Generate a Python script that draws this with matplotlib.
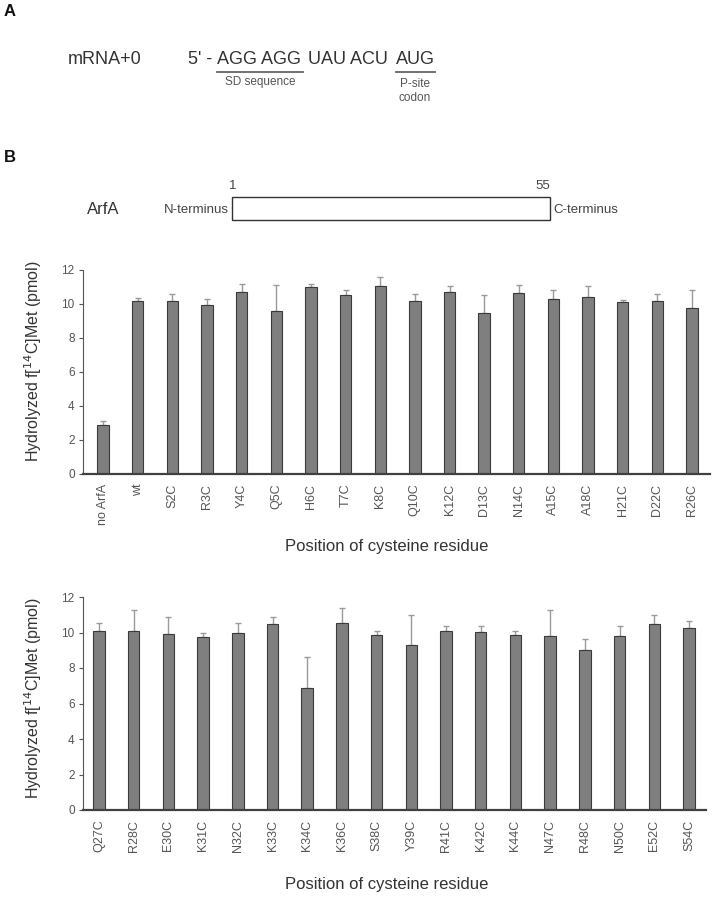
import matplotlib
matplotlib.use('Agg')
import matplotlib.pyplot as plt
from matplotlib.lines import Line2D
from matplotlib.patches import Rectangle
import numpy as np

# data
labels_top = ['no ArfA', 'wt', 'S2C', 'R3C', 'Y4C', 'Q5C', 'H6C', 'T7C', 'K8C',
              'Q10C', 'K12C', 'D13C', 'N14C', 'A15C', 'A18C', 'H21C', 'D22C', 'R26C']
values_top = [2.88, 10.18, 10.20, 9.92, 10.73, 9.60, 11.00, 10.55, 11.06,
              10.20, 10.70, 9.49, 10.63, 10.31, 10.41, 10.14, 10.16, 9.75]
errors_top = [0.26, 0.19, 0.40, 0.38, 0.43, 1.50, 0.15, 0.29, 0.54,
              0.37, 0.36, 1.04, 0.47, 0.49, 0.63, 0.11, 0.44, 1.05]

labels_bottom = ['Q27C', 'R28C', 'E30C', 'K31C', 'N32C', 'K33C', 'K34C', 'K36C', 'S38C',
                 'Y39C', 'R41C', 'K42C', 'K44C', 'N47C', 'R48C', 'N50C', 'E52C', 'S54C']
values_bottom = [10.08, 10.08, 9.92, 9.77, 9.99, 10.46, 6.87, 10.55, 9.88,
                 9.28, 10.08, 10.03, 9.86, 9.80, 9.03, 9.82, 10.49, 10.27]
errors_bottom = [0.46, 1.20, 0.98, 0.18, 0.55, 0.39, 1.77, 0.85, 0.22,
                 1.72, 0.26, 0.35, 0.22, 1.48, 0.60, 0.56, 0.50, 0.38]

W, H = 722, 900
TEXT = '#333333'
plt.rcParams['font.family'] = ['Liberation Sans', 'DejaVu Sans']


def fx(px):
    return px / W


def fy(py):
    return 1 - py / H


def bar_panel(fig, rect, labels, values, errors, xlim, ylab_y, xlab_y):
    left, top, right, bottom = rect
    ax = fig.add_axes([fx(left), fy(bottom), fx(right) - fx(left), fy(top) - fy(bottom)])
    x = np.arange(len(labels))
    ax.bar(x, values, width=0.33, color='#7f7f7f', edgecolor='#3a3a3a',
           linewidth=0.8, zorder=2)
    ax.errorbar(x, values, yerr=[np.zeros(len(errors)), errors], fmt='none',
                ecolor='#9a9a9a', elinewidth=1.0, capsize=2.5, capthick=1.0, zorder=1)
    ax.set_ylim(0, 12)
    ax.set_yticks(range(0, 13, 2))
    ax.set_xlim(*xlim)
    ax.set_xticks(x)
    ax.set_xticklabels(labels, rotation=90, fontsize=9, color='#555555')
    ax.tick_params(axis='x', length=0, pad=7)
    ax.tick_params(axis='y', length=3, width=0.8, colors='#555555', labelsize=8.5, pad=3)
    for s in ['top', 'right']:
        ax.spines[s].set_visible(False)
    ax.spines['left'].set_color('#555555')
    ax.spines['left'].set_linewidth(0.8)
    ax.spines['bottom'].set_color('#404040')
    ax.spines['bottom'].set_linewidth(1.6)
    fig.text(fx(33), fy(ylab_y), 'Hydrolyzed f[$^{14}$C]Met (pmol)', rotation=90,
             ha='center', va='center', fontsize=11.5, color=TEXT)
    fig.text(fx(387), fy(xlab_y), 'Position of cysteine residue', ha='center',
             va='center', fontsize=12, color=TEXT)
    return ax


fig = plt.figure(figsize=(W / 100, H / 100), dpi=100)

# panel A: mRNA sequence
fig.text(fx(4), fy(12), 'A', fontsize=12, fontweight='bold', ha='left', va='center', color='#111111')
fig.text(fx(68), fy(59), 'mRNA+0', fontsize=13, ha='left', va='center', color=TEXT)
fig.text(fx(188), fy(59), "5' -", fontsize=13, ha='left', va='center', color=TEXT)
fig.text(fx(217), fy(59), 'AGG AGG', fontsize=13, ha='left', va='center', color=TEXT)
fig.text(fx(308), fy(59), 'UAU ACU', fontsize=13, ha='left', va='center', color=TEXT)
fig.text(fx(396), fy(59), 'AUG', fontsize=13, ha='left', va='center', color=TEXT)
fig.add_artist(Line2D([fx(217), fx(303)], [fy(72), fy(72)], color='#666666', lw=1.3))
fig.add_artist(Line2D([fx(396), fx(435)], [fy(72), fy(72)], color='#666666', lw=1.3))
fig.text(fx(260), fy(82), 'SD sequence', fontsize=8.5, ha='center', va='center', color='#555555')
fig.text(fx(415), fy(91), 'P-site\ncodon', fontsize=8.5, ha='center', va='center',
         color='#555555', linespacing=1.3)

# panel B: ArfA schematic
fig.text(fx(4), fy(157), 'B', fontsize=12, fontweight='bold', ha='left', va='center', color='#111111')
fig.text(fx(87), fy(210), 'ArfA', fontsize=12, ha='left', va='center', color=TEXT)
fig.add_artist(Rectangle((fx(232), fy(220)), fx(550) - fx(232), fy(197) - fy(220),
                         fill=False, edgecolor='#333333', lw=1.0))
fig.text(fx(229), fy(210), 'N-terminus', fontsize=9.5, ha='right', va='center', color='#444444')
fig.text(fx(553), fy(210), 'C-terminus', fontsize=9.5, ha='left', va='center', color='#444444')
fig.text(fx(233), fy(186), '1', fontsize=9.5, ha='center', va='center', color='#444444')
fig.text(fx(543), fy(186), '55', fontsize=9.5, ha='center', va='center', color='#444444')

bar_panel(fig, (83, 270, 710, 474), labels_top, values_top, errors_top,
          (-0.58, 17.52), 361, 547)
bar_panel(fig, (83, 597, 706, 810), labels_bottom, values_bottom, errors_bottom,
          (-0.46, 17.49), 698, 885)

fig.savefig('out.png', dpi=100)
